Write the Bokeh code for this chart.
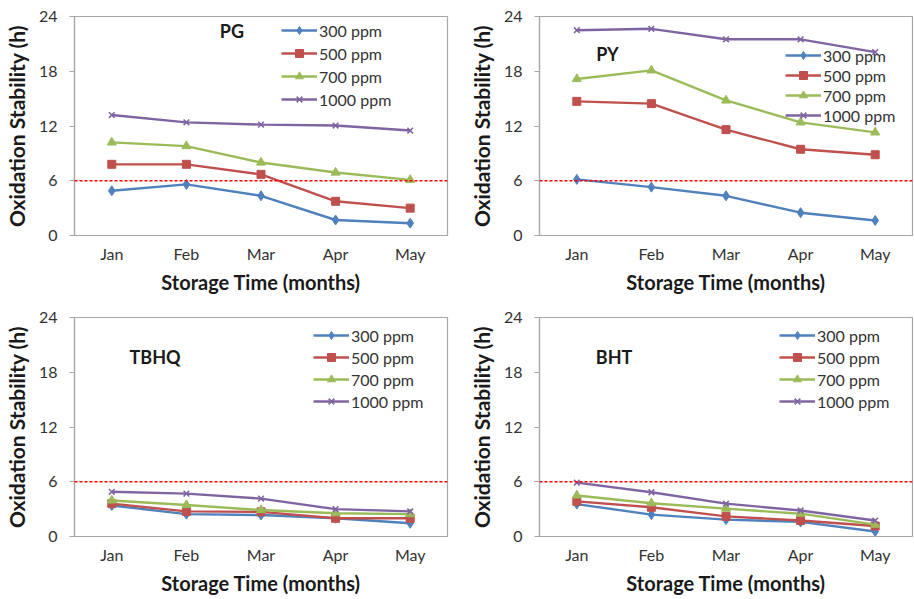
from bokeh.plotting import figure
from bokeh.layouts import gridplot
from bokeh.models import Range1d, FixedTicker, Span, Label
from bokeh.embed import file_html
from bokeh.resources import INLINE

# ---------------- data ----------------
months = ["Jan", "Feb", "Mar", "Apr", "May"]
series_labels = ["300 ppm", "500 ppm", "700 ppm", "1000 ppm"]
y_ticks = [0, 6, 12, 18, 24]
threshold = 6

pg_300 = [4.9, 5.6, 4.35, 1.7, 1.35]
pg_500 = [7.8, 7.8, 6.7, 3.75, 3.0]
pg_700 = [10.2, 9.8, 8.0, 6.9, 6.1]
pg_1000 = [13.2, 12.4, 12.15, 12.05, 11.5]

py_300 = [6.15, 5.3, 4.35, 2.5, 1.65]
py_500 = [14.7, 14.45, 11.6, 9.45, 8.85]
py_700 = [17.15, 18.1, 14.8, 12.4, 11.3]
py_1000 = [22.5, 22.65, 21.5, 21.5, 20.1]

tbhq_300 = [3.4, 2.45, 2.35, 2.0, 1.45]
tbhq_500 = [3.6, 2.75, 2.7, 2.0, 2.0]
tbhq_700 = [3.95, 3.45, 2.9, 2.55, 2.45]
tbhq_1000 = [4.9, 4.7, 4.15, 3.0, 2.75]

bht_300 = [3.55, 2.4, 1.85, 1.6, 0.55]
bht_500 = [3.85, 3.2, 2.2, 1.75, 1.15]
bht_700 = [4.5, 3.65, 3.05, 2.5, 1.3]
bht_1000 = [5.9, 4.85, 3.6, 2.85, 1.75]

# ---------------- style ----------------
FONT = "Lato"
colors = ["#4F81BD", "#C0504D", "#9BBB59", "#8064A2"]
markers = ["diamond", "square", "triangle", "x"]
msizes = [10, 8, 9, 8]

xs = list(range(len(months)))


def make_panel(name, series, width, height, mb, name_pos, leg_dx, leg_dy, leg_spacing):
    ml, mr, mt, mbtm = mb
    p = figure(width=width, height=height, output_backend="svg", toolbar_location=None,
               x_range=Range1d(-0.5, len(months) - 0.5), y_range=Range1d(0, 24),
               min_border_left=ml, min_border_right=mr, min_border_top=mt,
               min_border_bottom=mbtm, tools="")
    p.xgrid.visible = False
    p.ygrid.visible = False
    p.outline_line_color = "#A6A6A6"
    p.outline_line_width = 1.2
    p.background_fill_color = "white"
    p.border_fill_color = "white"

    # axes
    p.xaxis.ticker = FixedTicker(ticks=xs)
    p.xaxis.major_label_overrides = {i: m for i, m in enumerate(months)}
    p.yaxis.ticker = FixedTicker(ticks=y_ticks)
    for ax in (p.xaxis[0], p.yaxis[0]):
        ax.axis_line_color = "#A6A6A6"
        ax.axis_line_width = 1.2
        ax.major_tick_line_color = "#A6A6A6"
        ax.minor_tick_line_color = None
        ax.major_label_text_font = FONT
        ax.major_label_text_font_size = "16px"
        ax.major_label_text_color = "#333333"
        ax.axis_label_text_font = FONT
        ax.axis_label_text_font_style = "bold"
        ax.axis_label_text_color = "#1a1a1a"
    p.xaxis.axis_label_text_font_size = "20px"
    p.yaxis.axis_label_text_font_size = "21px"
    p.xaxis.major_tick_out = 0
    p.xaxis.major_tick_in = 0
    p.xaxis.major_label_standoff = 8
    p.xaxis.axis_label_standoff = 4
    p.xaxis.axis_label = "Storage Time (months)"
    p.yaxis.major_tick_out = 5
    p.yaxis.major_tick_in = 0
    p.yaxis.major_label_standoff = 12
    p.yaxis.axis_label_standoff = 7
    p.yaxis.axis_label = "Oxidation Stability (h)"

    # threshold line
    p.add_layout(Span(location=threshold, dimension="width", line_color="#FF0000",
                      line_dash="3 2", line_width=1.5))

    for vals, lab, c, mk, ms in zip(series, series_labels, colors, markers, msizes):
        p.line(xs, vals, line_color=c, line_width=2.4, legend_label=lab)
        if mk == "x":
            p.scatter(xs, vals, marker=mk, size=ms, line_color=c, line_width=1.6,
                      legend_label=lab)
        else:
            p.scatter(xs, vals, marker=mk, size=ms, fill_color=c, line_color=c,
                      legend_label=lab)

    # panel name
    p.add_layout(Label(x=name_pos[0], y=name_pos[1], text=name, text_font=FONT,
                       text_font_size="18px", text_font_style="bold",
                       text_color="#1a1a1a", text_align="center",
                       text_baseline="middle"))

    leg = p.legend[0]
    leg.label_text_font = FONT
    leg.label_text_font_size = "16px"
    leg.label_text_color = "#333333"
    leg.glyph_width = 36
    leg.glyph_height = 20
    leg.label_height = 20
    leg.label_standoff = 2
    leg.spacing = leg_spacing
    leg.padding = 0
    leg.margin = 0
    leg.background_fill_alpha = 0
    leg.border_line_alpha = 0
    frame_h = height - mt - mbtm
    leg_h = 4 * 20 + 3 * leg_spacing
    leg.location = (leg_dx, frame_h - (leg_dy - 10) - leg_h)
    return p


p1 = make_panel("PG", [pg_300, pg_500, pg_700, pg_1000], 457, 298, (73, 10, 16, 63),
                (1.61, 22.4), 207, 14, 3)
p2 = make_panel("PY", [py_300, py_500, py_700, py_1000], 457, 298, (82, 2, 16, 63),
                (0.41, 19.9), 246, 39, 0)
p3 = make_panel("TBHQ", [tbhq_300, tbhq_500, tbhq_700, tbhq_1000], 457, 300, (73, 10, 19, 62),
                (0.58, 19.7), 239, 18, 2)
p4 = make_panel("BHT", [bht_300, bht_500, bht_700, bht_1000], 457, 300, (82, 2, 19, 62),
                (0.5, 19.7), 240, 18, 2)

grid = gridplot([[p1, p2], [p3, p4]], toolbar_location=None)

open("out.html", "w").write(file_html(grid, INLINE))
